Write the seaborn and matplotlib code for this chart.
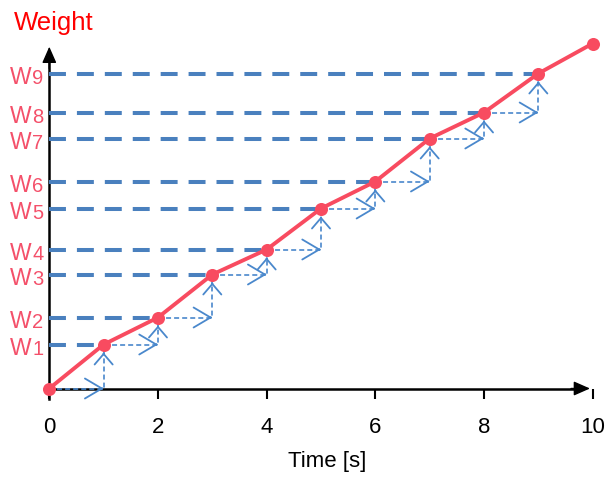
import matplotlib
matplotlib.use("Agg")
import matplotlib.pyplot as plt
import seaborn as sns
import pandas as pd
from matplotlib.patches import ArrowStyle
from matplotlib.transforms import offset_copy

sns.set_style("white")
plt.rcParams["font.family"] = ["Liberation Sans", "DejaVu Sans"]
plt.rcParams["lines.scale_dashes"] = False

# ---- data ----
time_s = [0, 1, 2, 3, 4, 5, 6, 7, 8, 9, 10]
weight = [0, 44, 71, 114, 139, 180, 207, 250, 276, 315, 345]
w_letters = ["W"] * 9
w_digits = ["1", "2", "3", "4", "5", "6", "7", "8", "9"]
x_ticks = [0, 2, 4, 6, 8, 10]

RED = "#F84B60"
LBL = "#F4506A"
THICK = "#4A80BE"
THIN = "#4A88CC"

W, H = 609, 478
fig = plt.figure(figsize=(W / 100, H / 100), dpi=100)
ax = fig.add_axes([0, 0, 1, 1])
ax.set_facecolor("none")

PX = 54.34
X0 = 49.3
Y0 = 388.5
ax.set_xlim(-X0 / PX, (W - X0) / PX)
ax.set_ylim(-(H - Y0), Y0)

# thick dashed level lines
for t, w in zip(time_s[1:10], weight[1:10]):
    ax.plot([0, t], [w, w], color=THICK, lw=2.9, dashes=(12.2, 7.9),
            dash_capstyle="butt", zorder=2)

# thin dashed step arrows
h_head = ArrowStyle("->", head_length=12.2, head_width=7.2)
v_head = ArrowStyle("->", head_length=7.6, head_width=6.5)
for i in range(9):
    t0, t1 = time_s[i], time_s[i + 1]
    w0, w1 = weight[i], weight[i + 1]
    ax.plot([t0, t1, t1], [w0, w0, w1], color=THIN, lw=1.2, dashes=(3.6, 2.2), zorder=2)
    ax.annotate("", xy=(t1, w0), xytext=(-1.5, 0), textcoords="offset points",
                arrowprops=dict(arrowstyle=h_head, color=THIN, lw=1.3,
                                shrinkA=0, shrinkB=0, mutation_scale=1), zorder=2)
    ax.annotate("", xy=(t1, w1), xytext=(0, -7.2), textcoords="offset points",
                arrowprops=dict(arrowstyle=v_head, color=THIN, lw=1.3,
                                shrinkA=0, shrinkB=5.8, mutation_scale=1), zorder=2)

# main weight curve
df = pd.DataFrame({"time": time_s, "weight": weight})
sns.lineplot(data=df, x="time", y="weight", ax=ax, color=RED, lw=2.8,
             marker="o", markersize=9.4, markeredgewidth=0, zorder=4)

# axes
for s in ["top", "right"]:
    ax.spines[s].set_visible(False)
ax.spines["left"].set_position(("data", 0))
ax.spines["bottom"].set_position(("data", 0))
ax.spines["left"].set_bounds(-10, 330)
ax.spines["bottom"].set_bounds(0, 9.75)
for s in ["left", "bottom"]:
    ax.spines[s].set_linewidth(1.8)
    ax.spines[s].set_color("black")
    ax.spines[s].set_zorder(1)

ax.set_xticks(x_ticks)
ax.set_xticklabels([str(v) for v in x_ticks])
ax.tick_params(axis="x", length=7.2, width=1.5, direction="out", pad=13.5,
               labelsize=16, colors="black", bottom=True)
ax.set_yticks([])
ax.set_ylabel("")
ax.set_xlabel("Time [s]", fontsize=16, color="black")
ax.xaxis.set_label_coords(327.5 / W, (H - 451) / H)

# axis arrowheads
ax.annotate("", xy=(9.95, 0), xytext=(9.6, 0),
            arrowprops=dict(arrowstyle=ArrowStyle("-|>", head_length=10, head_width=4.4),
                            mutation_scale=1, color="black", lw=1, shrinkA=0, shrinkB=0),
            annotation_clip=False)
ax.annotate("", xy=(0, 341.8), xytext=(0, 320),
            arrowprops=dict(arrowstyle=ArrowStyle("-|>", head_length=10, head_width=4.4),
                            mutation_scale=1, color="black", lw=1, shrinkA=0, shrinkB=0),
            annotation_clip=False)

# W labels
tr = offset_copy(ax.get_yaxis_transform(), fig=fig, y=-10.5, units="dots")
for letter, digit, w in zip(w_letters, w_digits, weight[1:10]):
    ax.text(31.8 / W, w, letter, ha="right", va="baseline", fontsize=16.5,
            color=LBL, transform=tr)
    ax.text(32.2 / W, w, digit, ha="left", va="baseline", fontsize=14.5,
            color=LBL, transform=tr)

fig.text(14 / W, 1 - 30 / H, "Weight", fontsize=18.5, color="#FF0000",
         ha="left", va="baseline")

fig.savefig("out.png", dpi=100)
